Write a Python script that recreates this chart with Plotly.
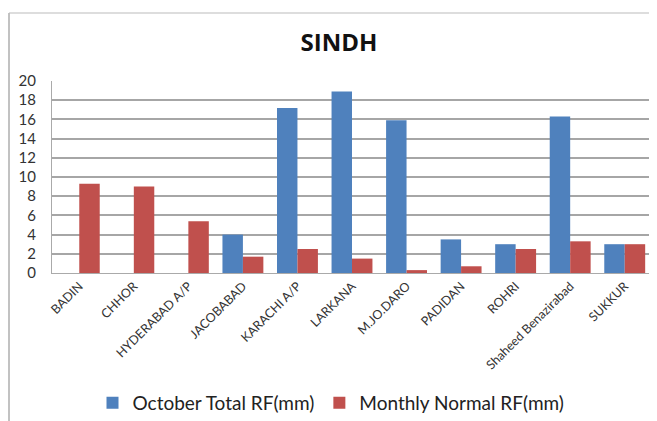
import plotly.graph_objects as go

stations = ["BADIN", "CHHOR", "HYDERABAD A/P", "JACOBABAD", "KARACHI A/P", "LARKANA",
            "M.JO.DARO", "PADIDAN", "ROHRI", "Shaheed Benazirabad", "SUKKUR"]
october_total = [0, 0, 0, 4.0, 17.2, 18.9, 15.9, 3.5, 3.0, 16.3, 3.0]
monthly_normal = [9.3, 9.0, 5.4, 1.7, 2.5, 1.5, 0.3, 0.7, 2.5, 3.3, 3.0]
y_ticks = [0, 2, 4, 6, 8, 10, 12, 14, 16, 18, 20]

fig = go.Figure()
fig.add_trace(go.Bar(x=stations, y=october_total, name="October Total RF(mm)",
                     marker=dict(color="#4F81BD", line=dict(width=0))))
fig.add_trace(go.Bar(x=stations, y=monthly_normal, name="Monthly Normal RF(mm)",
                     marker=dict(color="#C0504D", line=dict(width=0))))

# page body has an 8px margin; work in reference pixels and shift
OFF = 8
W, H = 657 - OFF, 421 - OFF
L, T = 52 - OFF, 81 - OFF
R = W - (652 - OFF)
B = H - (273 - OFF)
pw = W - L - R
ph = H - T - B

def px_x(p):
    return (p - OFF - L) / pw

def px_y(p):
    return (H - B - (p - OFF)) / ph

fig.update_layout(
    width=W, height=H,
    margin=dict(l=L, r=R, t=T, b=B, autoexpand=False),
    paper_bgcolor="white", plot_bgcolor="white",
    barmode="group", bargap=0.25, bargroupgap=0,
    font=dict(family="Lato, Open Sans, sans-serif", color="#222"),
    title=dict(text="<b>SINDH</b>", x=(339 - OFF) / W, xanchor="center",
               y=1 - (43 - OFF) / H, yanchor="middle",
               font=dict(size=24, color="#111", family="Open Sans, Lato, sans-serif")),
    xaxis=dict(tickangle=-45, tickfont=dict(size=12.5, color="#333"), automargin=False,
               showline=True, linecolor="#aaa", linewidth=1, ticks=""),
    yaxis=dict(range=[0, 20], tickvals=y_ticks, tickfont=dict(size=15, color="#333"),
               automargin=False,
               showgrid=True, gridcolor="#a6a6a6", gridwidth=1.8,
               showline=True, linecolor="#aaa", linewidth=1, zeroline=False,
               ticks="", ticklabelstandoff=12),
    legend=dict(orientation="h", x=(331 - OFF) / W, xanchor="center", xref="container",
                y=1 - (403 - OFF) / H, yanchor="middle", yref="container",
                font=dict(size=19, color="#222"), itemwidth=30,
                traceorder="normal"),
    shapes=[
        dict(type="line", xref="paper", yref="paper",
             x0=px_x(9), x1=px_x(9), y0=px_y(13), y1=px_y(430),
             line=dict(color="#999", width=1.2)),
        dict(type="line", xref="paper", yref="paper",
             x0=px_x(9), x1=px_x(670), y0=px_y(13), y1=px_y(13),
             line=dict(color="#bbb", width=1.2)),
    ],
)

fig.write_html("out.html")
